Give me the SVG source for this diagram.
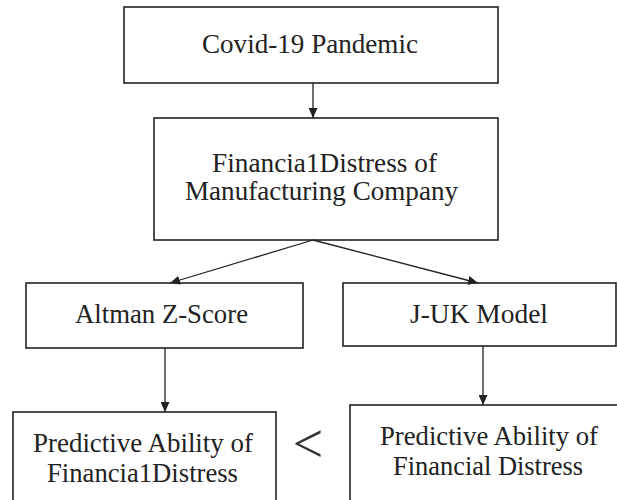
<svg xmlns="http://www.w3.org/2000/svg" width="617" height="500" viewBox="0 0 617 500">
<defs>
<style>
.box{fill:#fff;stroke:#222;stroke-width:1.6}
.lbl{font-family:"Liberation Serif","Times New Roman",serif;font-size:27px;fill:#222}
.con{stroke:#222;stroke-width:1.3;fill:none;marker-end:url(#ah)}
</style>
<marker id="ah" markerUnits="userSpaceOnUse" markerWidth="11" markerHeight="9" refX="10" refY="4.5" orient="auto">
<path d="M0,0 L10,4.5 L0,9 Z" fill="#222"/>
</marker>
</defs>
<rect width="617" height="500" fill="#fff"/>
<g id="n1">
<rect class="box" x="124" y="7" width="374" height="76"/>
<text class="lbl" x="202" y="53" textLength="216" lengthAdjust="spacingAndGlyphs">Covid-19 Pandemic</text>
</g>
<g id="n2">
<rect class="box" x="154" y="118" width="344" height="122"/>
<text class="lbl" x="212" y="172" textLength="225" lengthAdjust="spacingAndGlyphs">Financia1Distress of</text>
<text class="lbl" x="185" y="200" textLength="273" lengthAdjust="spacingAndGlyphs">Manufacturing Company</text>
</g>
<g id="n3">
<rect class="box" x="26" y="283" width="277" height="65"/>
<text class="lbl" x="75" y="323" textLength="173" lengthAdjust="spacingAndGlyphs">Altman Z-Score</text>
</g>
<g id="n4">
<rect class="box" x="343" y="283" width="273" height="63"/>
<text class="lbl" x="410" y="323" textLength="138" lengthAdjust="spacingAndGlyphs">J-UK Model</text>
</g>
<g id="n5">
<rect class="box" x="13" y="412" width="263" height="100"/>
<text class="lbl" x="33" y="452" textLength="220" lengthAdjust="spacingAndGlyphs">Predictive Ability of</text>
<text class="lbl" x="47" y="482" textLength="191" lengthAdjust="spacingAndGlyphs">Financia1Distress</text>
</g>
<g id="n6">
<rect class="box" x="350" y="405" width="290" height="110"/>
<text class="lbl" x="380" y="445" textLength="218" lengthAdjust="spacingAndGlyphs">Predictive Ability of</text>
<text class="lbl" x="393" y="475" textLength="190" lengthAdjust="spacingAndGlyphs">Financial Distress</text>
</g>
<g id="cmp">
<text x="308" y="462" text-anchor="middle" style="font-family:'Liberation Serif','Times New Roman',serif;font-size:54px;fill:#333">&lt;</text>
</g>
<g id="connectors">
<line class="con" x1="313" y1="83" x2="313" y2="118"/>
<line class="con" x1="313" y1="240" x2="170" y2="283"/>
<line class="con" x1="313" y1="240" x2="478" y2="283"/>
<line class="con" x1="165" y1="348" x2="165" y2="412"/>
<line class="con" x1="483" y1="346" x2="483" y2="405"/>
</g>
</svg>
